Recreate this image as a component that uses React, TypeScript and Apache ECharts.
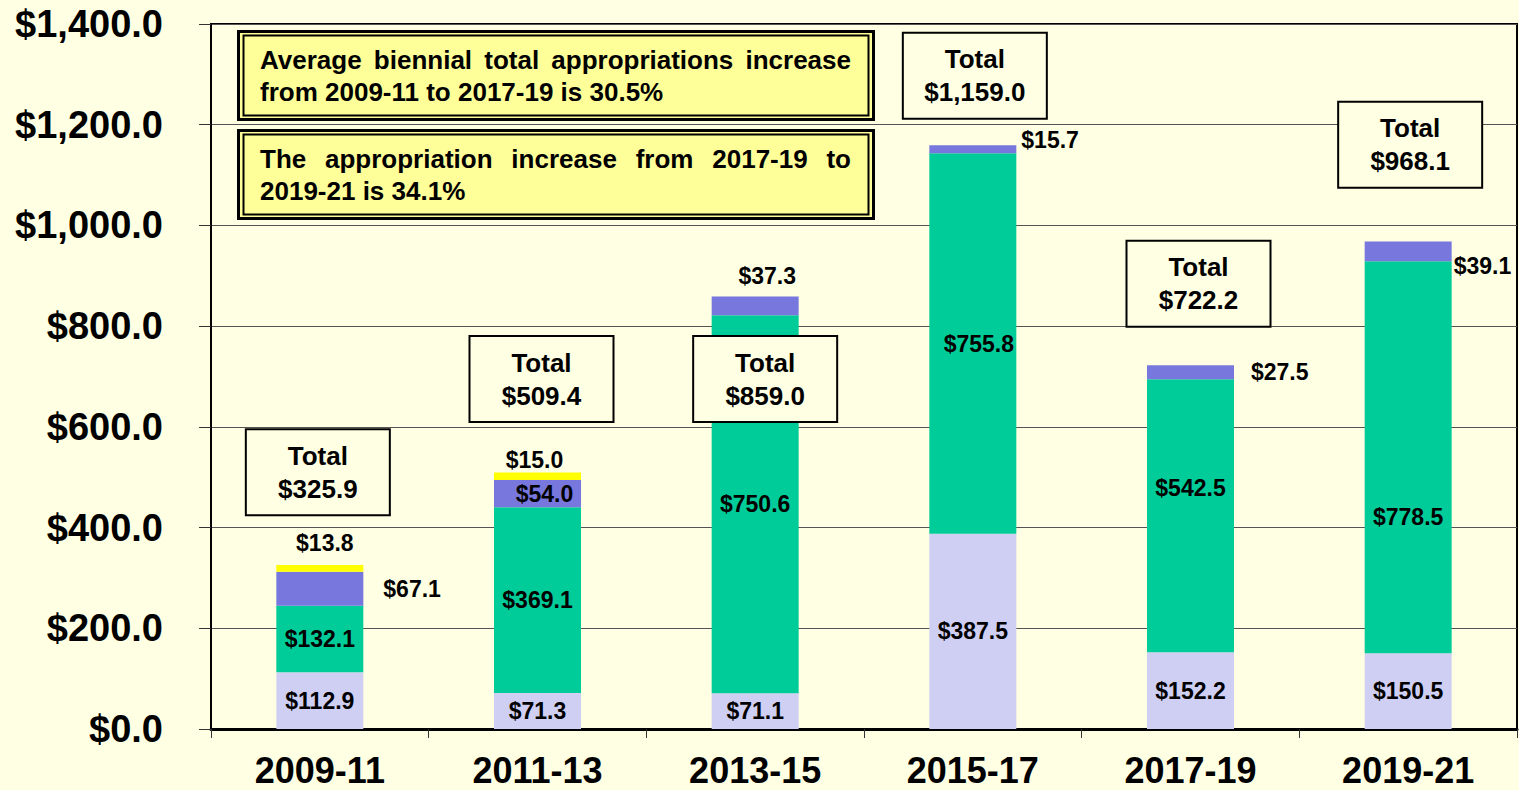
import React, { useEffect, useRef } from 'react';
import * as echarts from 'echarts';

// ---------- data ----------
const categories = ['2009-11', '2011-13', '2013-15', '2015-17', '2017-19', '2019-21'];
const baseValues = [112.9, 71.3, 71.1, 387.5, 152.2, 150.5];
const middleValues = [132.1, 369.1, 750.6, 755.8, 542.5, 778.5];
const upperValues = [67.1, 54.0, 37.3, 15.7, 27.5, 39.1];
const topValues = [13.8, 15.0, null, null, null, null];
const totals = [325.9, 509.4, 859.0, 1159.0, 722.2, 968.1];
const yTicks = [0, 200, 400, 600, 800, 1000, 1200, 1400];
const note1 = ['Average biennial total appropriations increase', 'from 2009-11 to 2017-19 is 30.5%'];
const note2 = ['The appropriation increase from 2017-19 to', '2019-21 is 34.1%'];

// ---------- layout / style ----------
const BG = '#FFFFE3';
const FONT = 'Arial, "Liberation Sans", sans-serif';
const COLORS = { base: '#CFCFF3', middle: '#00CC99', upper: '#7777DD', top: '#FFFF00' };
const totalBoxAnchorY = [510, 695, 695, 1297, 884, 1160];
const totalBoxShiftX = [-2, 4, 10, 2, 8, 2];
const middleLabelOffset = [[0, 0], [0, 0], [0, 0], [6, 0], [0, -28], [0, 60]];
const upperLabelLayout: any[] = [
  { position: 'right', distance: 20 },
  { position: 'inside', offset: [7, 0] },
  { position: 'top', distance: 9, offset: [12, 0] },
  { position: 'right', distance: 5, offset: [0, -9] },
  { position: 'right', distance: 17 },
  { position: 'right', distance: 2, offset: [0, 15] },
];
const topLabelLayout: any[] = [
  { position: 'top', distance: 10, offset: [5, 0] },
  { position: 'top', distance: 1, offset: [-3, 0] },
  {}, {}, {}, {},
];

const money = (v: number) =>
  '$' + v.toLocaleString('en-US', { minimumFractionDigits: 1, maximumFractionDigits: 1 });

const NOTE_SIZE = 26;

function measure(text: string) {
  const c = document.createElement('canvas').getContext('2d')!;
  c.font = `bold ${NOTE_SIZE}px "Liberation Sans", Arial, sans-serif`;
  return c.measureText(text).width;
}

function textEl(text: string, x: number, y: number) {
  return {
    type: 'text',
    x,
    y,
    z: 20,
    style: {
      text,
      fontSize: NOTE_SIZE,
      fontWeight: 'bold',
      fontFamily: FONT,
      fill: '#000',
      align: 'left',
      verticalAlign: 'middle',
    },
  };
}

function justified(text: string, x0: number, x1: number, y: number) {
  const words = text.split(' ');
  const widths = words.map(measure);
  const sum = widths.reduce((a, b) => a + b, 0);
  const gap = (x1 - x0 - sum) / (words.length - 1);
  const out: any[] = [];
  let x = x0;
  words.forEach((w, i) => {
    out.push(textEl(w, x, y));
    x += widths[i] + gap;
  });
  return out;
}

function noteBox(lines: string[], top: number) {
  const els: any[] = [
    {
      type: 'rect',
      z: 15,
      shape: { x: 238.5, y: top + 1.5, width: 635, height: 88 },
      style: { fill: '#FFFF99', stroke: '#000', lineWidth: 3 },
    },
    {
      type: 'rect',
      z: 16,
      shape: { x: 243.5, y: top + 5.5, width: 625, height: 80 },
      style: { fill: 'none', stroke: '#000', lineWidth: 2 },
    },
  ];
  els.push(...justified(lines[0], 260, 851, top + 30));
  els.push(textEl(lines[1], 260, top + 62));
  return els;
}

const barLabelBase = {
  show: true,
  color: '#000',
  fontSize: 23,
  fontWeight: 'bold',
  fontFamily: FONT,
  formatter: (p: any) => (p.value == null || p.value === '-' ? '' : money(p.value)),
};

function buildOption(): any {
  return {
    animation: false,
    backgroundColor: BG,
    textStyle: { fontFamily: FONT },
    grid: {
      left: 211,
      right: 2,
      top: 24,
      bottom: 61,
      show: true,
      borderColor: '#000',
      borderWidth: 2,
      backgroundColor: BG,
    },
    xAxis: {
      type: 'category',
      data: categories,
      axisLine: { lineStyle: { color: '#000', width: 3 } },
      axisTick: { show: true, length: 9, lineStyle: { color: '#333', width: 1 } },
      axisLabel: { color: '#000', fontSize: 36, fontWeight: 'bold', fontFamily: FONT, margin: 23 },
    },
    yAxis: {
      type: 'value',
      min: yTicks[0],
      max: yTicks[yTicks.length - 1],
      interval: yTicks[1] - yTicks[0],
      axisLine: { show: true, lineStyle: { color: '#000', width: 2 } },
      axisTick: { show: true, length: 12, lineStyle: { color: '#333', width: 1 } },
      splitLine: { lineStyle: { color: '#555', width: 1 } },
      axisLabel: {
        color: '#000',
        fontSize: 38,
        fontWeight: 'bold',
        fontFamily: FONT,
        margin: 48,
        formatter: (v: number) => money(v),
      },
    },
    series: [
      {
        name: 'base',
        type: 'bar',
        stack: 'total',
        barWidth: 87,
        itemStyle: { color: COLORS.base },
        label: { ...barLabelBase, position: 'inside' },
        data: baseValues,
      },
      {
        name: 'middle',
        type: 'bar',
        stack: 'total',
        barWidth: 87,
        itemStyle: { color: COLORS.middle },
        label: { ...barLabelBase, position: 'inside' },
        data: middleValues.map((v, i) => ({ value: v, label: { offset: middleLabelOffset[i] } })),
      },
      {
        name: 'upper',
        type: 'bar',
        stack: 'total',
        barWidth: 87,
        itemStyle: { color: COLORS.upper },
        label: { ...barLabelBase },
        data: upperValues.map((v, i) => ({ value: v, label: upperLabelLayout[i] })),
      },
      {
        name: 'top',
        type: 'bar',
        stack: 'total',
        barWidth: 87,
        itemStyle: { color: COLORS.top },
        label: { ...barLabelBase },
        data: topValues.map((v, i) =>
          v == null ? '-' : { value: v, label: topLabelLayout[i] }
        ),
      },
      {
        name: 'totals',
        type: 'scatter',
        symbolSize: 0,
        silent: true,
        z: 5,
        itemStyle: { opacity: 1, color: '#000' },
        label: {
          show: true,
          position: 'inside',
          formatter: (p: any) => `Total\n${money(totals[p.dataIndex])}`,
          color: '#000',
          opacity: 1,
          fontSize: 26,
          fontWeight: 'bold',
          fontFamily: FONT,
          lineHeight: 33,
          backgroundColor: BG,
          borderColor: '#000',
          borderWidth: 2,
          padding: [9, 0, 9, 0],
          width: 142,
          align: 'center',
        },
        data: totals.map((t, i) => ({
          value: [i, totalBoxAnchorY[i]],
          label: { offset: [totalBoxShiftX[i], 0] },
        })),
      },
    ],
    graphic: [...noteBox(note1, 30), ...noteBox(note2, 129)],
  };
}

export default function App() {
  const ref = useRef<HTMLDivElement>(null);
  useEffect(() => {
    const chart = echarts.init(ref.current!, null, { renderer: 'svg' });
    chart.setOption(buildOption());
    return () => chart.dispose();
  }, []);
  return (
    <div
      ref={ref}
      style={{ position: 'fixed', left: 0, top: 0, width: 1519, height: 790, background: BG }}
    />
  );
}
